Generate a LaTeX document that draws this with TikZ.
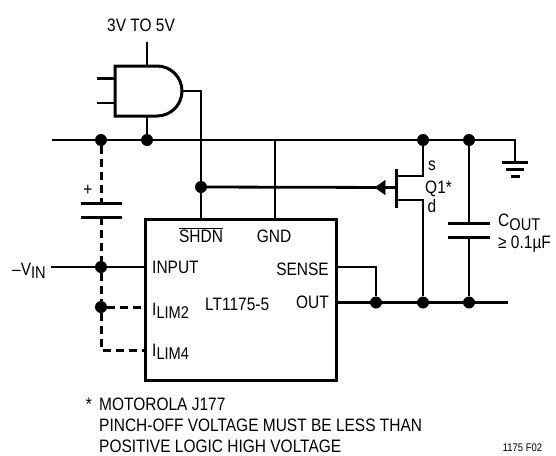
\documentclass[tikz,border=0pt]{standalone}
\usepackage{fontspec}
\setmainfont[FakeStretch=0.86]{Liberation Sans}
\usetikzlibrary{arrows.meta}
\newcommand{\Ssub}[1]{\raisebox{-3.5pt}{\fontsize{17}{19}\selectfont #1}}
\tikzset{
  wire/.style={line width=2.8pt},
  dashwire/.style={line width=3pt,dash pattern=on 8pt off 5pt},
  plate/.style={line width=3pt},
  dot/.style={circle,fill=black,inner sep=0pt,minimum size=12pt},
  lbl/.style={inner sep=0pt,font=\fontsize{18}{21}\selectfont},
}
\begin{document}
\begin{tikzpicture}[x=1pt,y=-1pt]
\useasboundingbox (0,0) rectangle (556,455);
% regulator
\node (ic) [rectangle,draw=black,line width=3pt,minimum width=191pt,minimum height=161pt,inner sep=0pt] at (240.5,299.5) {};
\node (shdn) [lbl,anchor=base] at (201,242.5) {$\overline{\mbox{SHDN}}$};
\node (gnd) [lbl,anchor=base] at (274,242.5) {GND};
\node (input) [lbl,anchor=base west] at (152,273.5) {INPUT};
\node (ilima) [lbl,anchor=base west] at (152,315) {I\Ssub{LIM2}};
\node (ilimb) [lbl,anchor=base west] at (152,356) {I\Ssub{LIM4}};
\node (part) [lbl,anchor=base west] at (205,310.5) {LT1175-5};
\node (sense) [lbl,anchor=base east] at (329,275.5) {SENSE};
\node (out) [lbl,anchor=base east] at (329,308.5) {OUT};
% junctions
\node (j1) [dot] at (101,140) {};
\node (j2) [dot] at (147,140) {};
\node (j3) [dot] at (423,140) {};
\node (j4) [dot] at (469,140) {};
\node (j5) [dot] at (201,187) {};
\node (j6) [dot] at (101,267) {};
\node (j7) [dot] at (101,307) {};
\node (j8) [dot] at (376,302.5) {};
\node (j9) [dot] at (423,302.5) {};
\node (j10) [dot] at (469,302.5) {};
% free ends and corners
\coordinate (raill) at (52,140);
\coordinate (railg) at (515,140);
\coordinate (gndtop) at (515,162);
\coordinate (vinl) at (51,267);
\coordinate (pini) at (145,267);
\coordinate (pinl2) at (145,307);
\coordinate (pinl4) at (145,350);
\coordinate (cornl4) at (101,350);
\coordinate (capa) at (101,203);
\coordinate (capb) at (101,217);
\coordinate (pinshdn) at (201,219);
\coordinate (pingnd) at (275,219);
\coordinate (railgnd) at (275,140);
\coordinate (pinsense) at (336,267);
\coordinate (cornsense) at (376,267);
\coordinate (pinout) at (336,302.5);
\coordinate (outr) at (508,302.5);
\coordinate (couta) at (469,223);
\coordinate (coutb) at (469,237);
\coordinate (src) at (423,176);
\coordinate (srcg) at (396,176);
\coordinate (drn) at (423,200);
\coordinate (drng) at (396,200);
\coordinate (qgate) at (396,187.5);
\coordinate (andtop) at (147,66);
\coordinate (andbot) at (147,116);
\coordinate (andout) at (182,91);
\coordinate (andcorn) at (201,91);
\coordinate (supply) at (147,42);
\coordinate (andina) at (115,78.5);
\coordinate (andinb) at (115,103);
\coordinate (stuba) at (97,78.5);
\coordinate (stubb) at (97,103);
% gate body
\draw[plate,line join=miter] (115,66) -- (157,66) arc (90:-90:25pt) -- (115,116) -- cycle;
% wires
\draw[wire] (raill) -- (railg) -- (gndtop);
\draw[wire] (supply) -- (andtop);
\draw[wire] (andbot) -- (j2);
\draw[wire] (stuba) -- (andina);
\draw[wire] (stubb) -- (andinb);
\draw[wire] (andout) -- (andcorn) -- (pinshdn);
\draw[wire] (railgnd) -- (pingnd);
\draw[wire] (vinl) -- (pini);
\draw[wire] (pinsense) -- (cornsense) -- (j8);
\draw[wire] (pinout) -- (outr);
\draw[wire] (j3) -- (src) -- (srcg);
\draw[wire] (j9) -- (drn) -- (drng);
\draw[wire] (j4) -- (couta);
\draw[wire] (coutb) -- (j10);
\draw[wire] (j5) -- (qgate);
\draw[fill=black,line width=0.5pt] (375,187.5) -- (385,180.5) -- (385,194.5) -- cycle;
\draw[plate] (396,169) -- (396,208);
% dashed links
\draw[dashwire] (j1) -- (capa);
\draw[dashwire] (capb) -- (j6);
\draw[dashwire] (j6) -- (j7);
\draw[dashwire] (j7) -- (cornl4) -- (pinl4);
\draw[dashwire] (j7) -- (pinl2);
% capacitors and ground
\draw[plate] (81,203) -- (122,203);
\draw[plate] (81,217) -- (122,217);
\draw[plate] (448,223) -- (490,223);
\draw[plate] (448,237) -- (490,237);
\draw[plate] (502,162) -- (528,162);
\draw[plate] (506,169) -- (524,169);
\draw[plate] (511,176) -- (520,176);
% text
\node (vsup) [lbl] at (141,25) {3V TO 5V};
\node (plus) [lbl] at (88,190) {+};
\node (vin) [lbl,anchor=base east] at (46,275) {–V\Ssub{IN}};
\node (qs) [lbl] at (432,166) {s};
\node (qname) [lbl,anchor=base west] at (425,193.5) {Q1*};
\node (qd) [lbl,anchor=base] at (432,212.5) {d};
\node (cout) [lbl,anchor=base west] at (498,226.5) {C\Ssub{OUT}};
\node (cval) [lbl,anchor=base west] at (498,248) {≥ 0.1µF};
\node (star) [lbl,anchor=base] at (89,410.5) {*};
\node (notea) [lbl,anchor=base west] at (99,410.5) {MOTOROLA J177};
\node (noteb) [lbl,anchor=base west] at (99,431.5) {PINCH-OFF VOLTAGE MUST BE LESS THAN};
\node (notec) [lbl,anchor=base west] at (99,452) {POSITIVE LOGIC HIGH VOLTAGE};
\node (fig) [inner sep=0pt,font=\fontsize{11}{13}\selectfont] at (522.5,448) {1175 F02};
\end{tikzpicture}
\end{document}
